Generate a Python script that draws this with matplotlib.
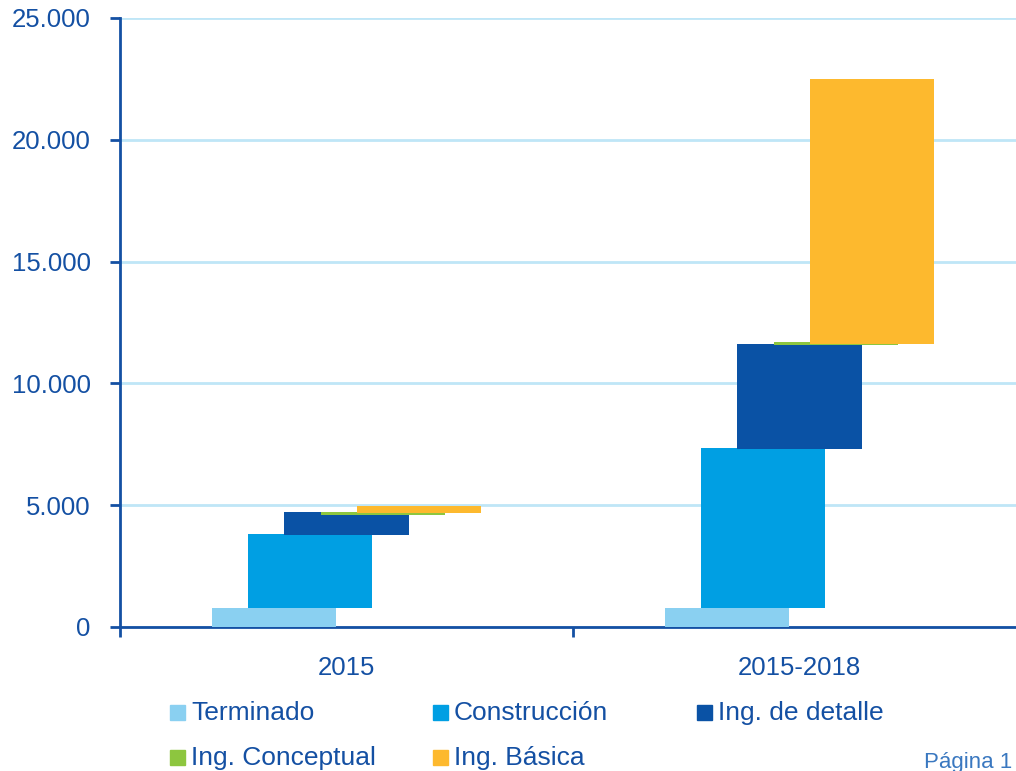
import matplotlib.pyplot as plt
import numpy as np
from matplotlib.patches import Rectangle
from matplotlib.ticker import FuncFormatter

plt.rcParams["font.family"] = ["Liberation Sans", "DejaVu Sans"]

categories = ["2015", "2015-2018"]
series = ["Terminado", "Construcción", "Ing. de detalle", "Ing. Conceptual", "Ing. Básica"]

# floating bars: start and end value per series, per category
bottoms = {
    "Terminado": [0, 0],
    "Construcción": [780, 780],
    "Ing. de detalle": [3780, 7300],
    "Ing. Conceptual": [4600, 11580],
    "Ing. Básica": [4670, 11620],
}
tops = {
    "Terminado": [800, 800],
    "Construcción": [3820, 7350],
    "Ing. de detalle": [4720, 11600],
    "Ing. Conceptual": [4720, 11700],
    "Ing. Básica": [4980, 22500],
}

colors = ["#8ad0f1", "#009fe3", "#0a52a5", "#8dc63f", "#fdb92e"]
text_color = "#1450a3"
grid_color = "#bfe6f7"

fig = plt.figure(figsize=(10.16, 7.71), dpi=100)
ax = fig.add_axes([120 / 1016, 1 - 627 / 771, 906 / 1016, 609 / 771])

x = np.arange(len(categories))
width = 0.274
step = 0.08
for i, name in enumerate(series):
    b = np.array(bottoms[name])
    t = np.array(tops[name])
    ax.bar(x + (i - 2) * step, t - b, bottom=b, width=width,
           color=colors[i], zorder=3 + i)

ax.set_xlim(-0.5, 1.5)
ax.set_ylim(0, 25000)
ax.set_yticks(range(0, 25001, 5000))
ax.yaxis.set_major_formatter(FuncFormatter(lambda v, p: f"{int(v):,}".replace(",", ".")))
ax.grid(axis="y", color=grid_color, linewidth=2, zorder=0)
ax.set_axisbelow(True)

ax.set_xticks(x)
ax.set_xticklabels(categories)
ax.set_xticks([-0.5, 0.5, 1.5], minor=True)
ax.tick_params(axis="x", which="major", length=0, pad=21, labelsize=18.5, labelcolor=text_color)
ax.tick_params(axis="x", which="minor", length=7, width=2, color=text_color, direction="out")
ax.tick_params(axis="y", length=7, width=2, color=text_color, pad=14, labelsize=18.5, labelcolor=text_color)

for side in ["top", "right"]:
    ax.spines[side].set_visible(False)
for side in ["left", "bottom"]:
    ax.spines[side].set_color(text_color)
    ax.spines[side].set_linewidth(2)

# legend laid out by hand in figure pixels
legend_pos = [(170, 712), (433, 712), (697, 712), (170, 757), (433, 757)]
for i, name in enumerate(series):
    px, py = legend_pos[i]
    fig.add_artist(Rectangle((px / 1016, 1 - (py + 8) / 771), 15 / 1016, 15 / 771,
                             transform=fig.transFigure, color=colors[i]))
    fig.text((px + 21) / 1016, 1 - (py + 1) / 771, name, fontsize=19,
             color=text_color, va="center", ha="left")

fig.text(1012 / 1016, 1 - 768 / 771, "Página 1", fontsize=16,
         color="#3a78c0", va="baseline", ha="right")

fig.savefig("out.png", dpi=100)
